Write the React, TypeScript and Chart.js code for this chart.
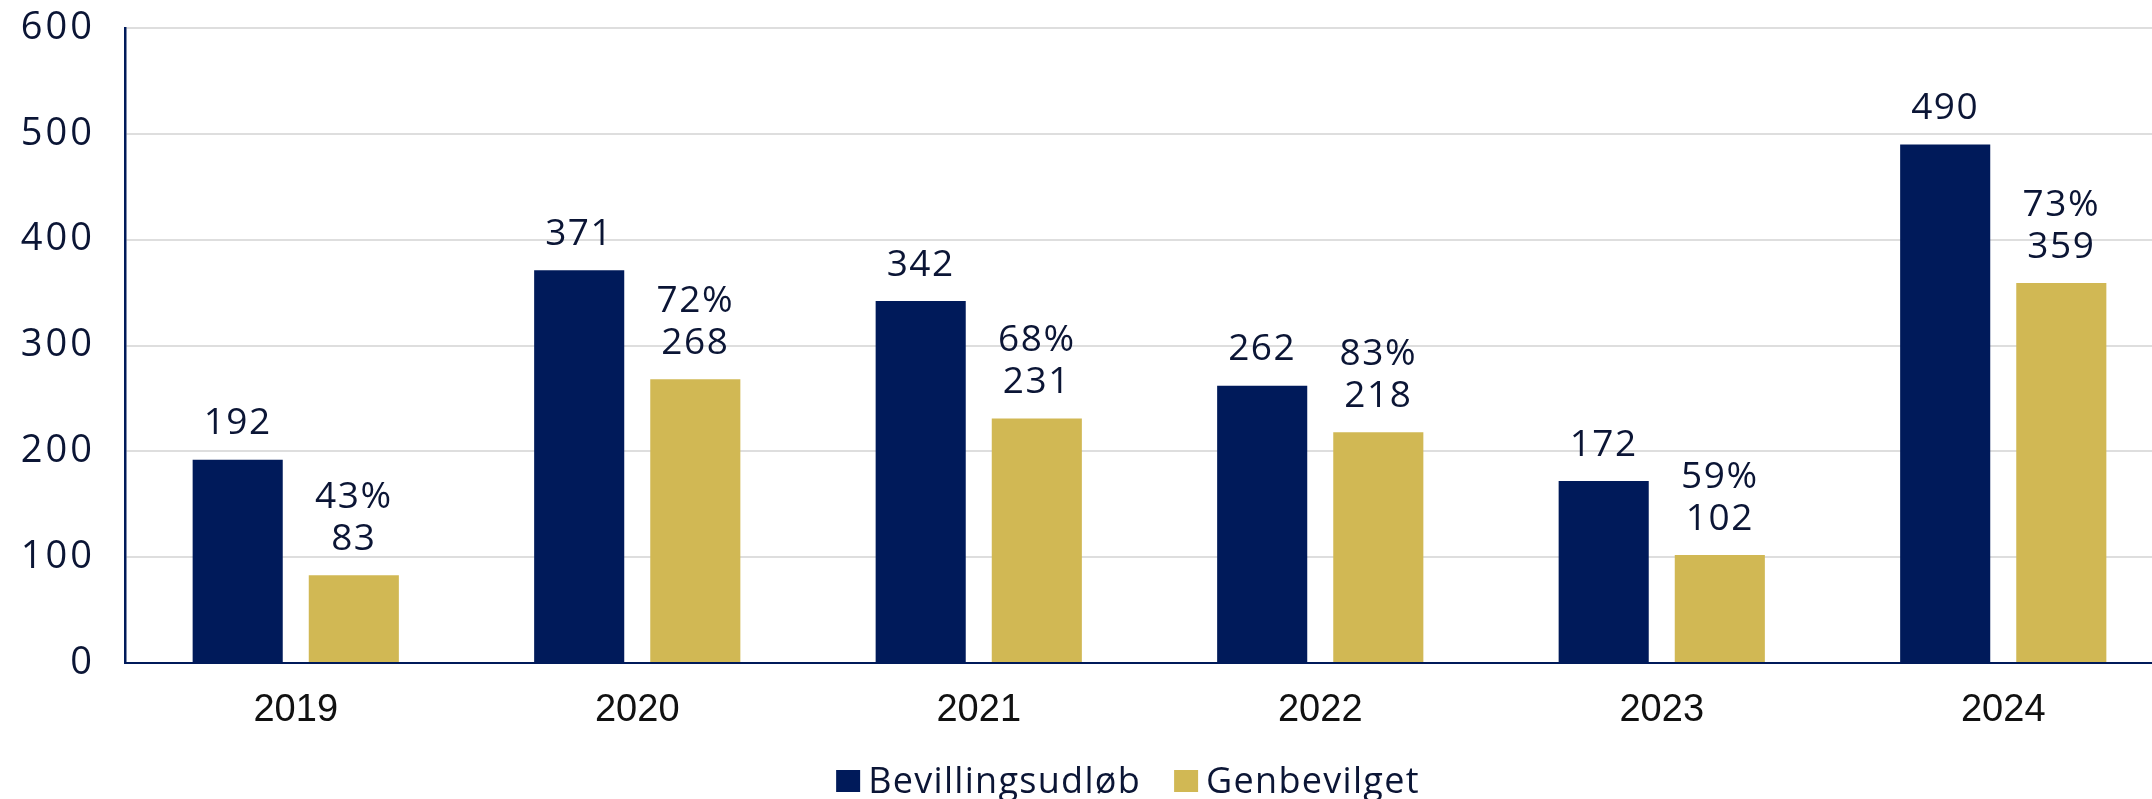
import React, { useEffect, useRef } from "react";
import { Chart, registerables } from "chart.js";

Chart.register(...registerables);

const years = ["2019", "2020", "2021", "2022", "2023", "2024"];
const expired = [192, 371, 342, 262, 172, 490];
const renewed = [83, 268, 231, 218, 102, 359];
const renewedPct = ["43%", "72%", "68%", "83%", "59%", "73%"];
const seriesNames = ["Bevillingsudløb", "Genbevilget"];
const yTicks = [0, 100, 200, 300, 400, 500, 600];

const NAVY = "#001A5A";
const GOLD = "#D1B854";
const TEXT = "#0B1535";
const LABEL_FONT = '"Open Sans", sans-serif';

const dataLabels = {
  id: "dataLabels",
  afterDatasetsDraw(chart: any) {
    const ctx = chart.ctx;
    ctx.save();
    ctx.font = `37px ${LABEL_FONT}`;
    (ctx as any).letterSpacing = "1.5px";
    ctx.fillStyle = TEXT;
    ctx.textAlign = "center";
    ctx.textBaseline = "middle";
    chart.data.datasets.forEach((ds: any, di: number) => {
      const meta = chart.getDatasetMeta(di);
      meta.data.forEach((bar: any, i: number) => {
        const lines = di === 0 ? [String(expired[i])] : [renewedPct[i], String(renewed[i])];
        let y = bar.y - 36;
        for (let k = lines.length - 1; k >= 0; k--) {
          ctx.fillText(lines[k], bar.x, y);
          y -= 42;
        }
      });
    });
    ctx.restore();
    // spacing for the y tick labels drawn in the next layer (z = 1)
    (ctx as any).letterSpacing = "3px";
  },
};

const customLegend = {
  id: "customLegend",
  afterDraw(chart: any) {
    const ctx = chart.ctx;
    (ctx as any).letterSpacing = "0px";
    ctx.save();
    ctx.font = `36px ${LABEL_FONT}`;
    (ctx as any).letterSpacing = "1.3px";
    const boxW = 24;
    const boxH = 22;
    const gapText = 8;
    const gapItem = 33;
    const colors = [NAVY, GOLD];
    const widths = seriesNames.map((n) => ctx.measureText(n).width);
    const total = widths.reduce((a, w) => a + boxW + gapText + w, 0) + gapItem * (seriesNames.length - 1);
    const centerX = 1128;
    let x = centerX - total / 2;
    const boxTop = 770;
    const baseline = 793;
    seriesNames.forEach((n, i) => {
      ctx.fillStyle = colors[i];
      ctx.fillRect(x, boxTop, boxW, boxH);
      x += boxW + gapText;
      ctx.fillStyle = TEXT;
      ctx.textAlign = "left";
      ctx.textBaseline = "alphabetic";
      ctx.fillText(n, x, baseline);
      x += widths[i] + gapItem;
    });
    ctx.restore();
    (ctx as any).letterSpacing = "0px";
  },
};

export default function App() {
  const ref = useRef<HTMLCanvasElement | null>(null);

  useEffect(() => {
    document.body.style.margin = "0";
    const canvas = ref.current;
    if (!canvas) return;
    const chart = new Chart(canvas, {
      type: "bar",
      data: {
        labels: years,
        datasets: [
          { label: seriesNames[0], data: expired, backgroundColor: NAVY },
          { label: seriesNames[1], data: renewed, backgroundColor: GOLD },
        ],
      },
      options: {
        animation: false,
        responsive: false,
        devicePixelRatio: 1,
        layout: { padding: { top: 28, bottom: 56, left: 0, right: 0 } },
        datasets: {
          bar: { categoryPercentage: 0.68, barPercentage: 0.776 },
        },
        plugins: {
          legend: { display: false },
          tooltip: { enabled: false },
          title: { display: false },
        },
        scales: {
          x: {
            grid: { display: false, drawTicks: false },
            border: { display: true, color: NAVY, width: 2 },
            ticks: {
              color: "#111111",
              font: { family: '"Liberation Sans", Arial, sans-serif', size: 38 },
              padding: 25,
              maxRotation: 0,
            },
            afterFit(scale: any) {
              scale.height = 80;
              scale.paddingLeft = 0;
              scale.paddingRight = 0;
              scale.paddingTop = 0;
              scale.paddingBottom = 0;
            },
          },
          y: {
            min: 0,
            max: 600,
            afterBuildTicks(scale: any) {
              scale.ticks = yTicks.map((v) => ({ value: v }));
            },
            grid: {
              color: (c: any) => (c.tick && c.tick.value === 0 ? "rgba(0,0,0,0)" : "#DEDEDE"),
              lineWidth: 2,
              drawTicks: false,
              z: 0,
            },
            border: { display: true, color: NAVY, width: 2.5, z: 0 },
            ticks: {
              color: TEXT,
              font: { family: LABEL_FONT, size: 38 },
              padding: 30,
              z: 1,
            },
            afterFit(scale: any) {
              scale.width = 125;
              scale.paddingTop = 0;
              scale.paddingBottom = 0;
              scale.paddingLeft = 0;
              scale.paddingRight = 0;
            },
          },
        },
      },
      plugins: [dataLabels, customLegend],
    });
    return () => chart.destroy();
  }, []);

  return (
    <div style={{ width: 2152, height: 799, overflow: "hidden", position: "relative", background: "#fff" }}>
      <canvas ref={ref} width={2174} height={799} style={{ display: "block", width: 2174, height: 799 }} />
    </div>
  );
}
